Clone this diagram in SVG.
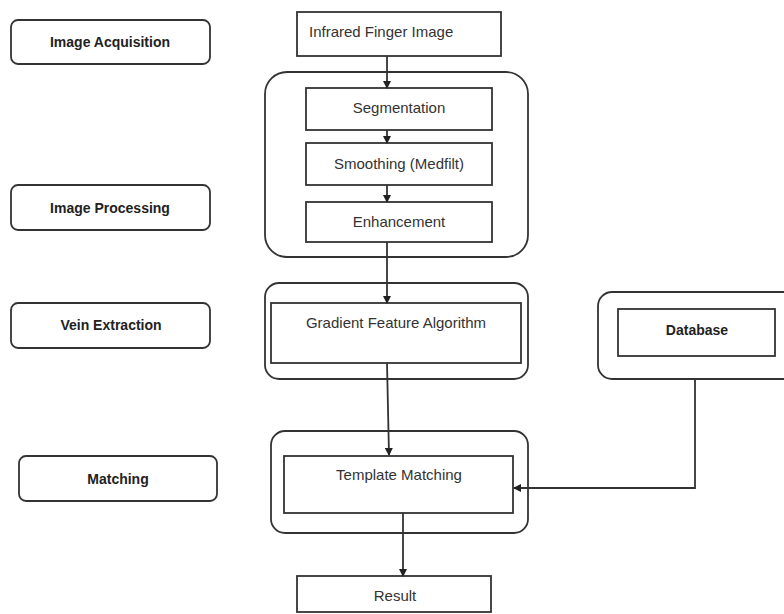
<svg xmlns="http://www.w3.org/2000/svg" width="784" height="614" viewBox="0 0 784 614">
<defs>
<style>
.box{fill:#fff;stroke:#333;stroke-width:1.8}
.cont{fill:none;stroke:#333;stroke-width:1.8}
.t{font-family:"Liberation Sans",Arial,sans-serif;font-size:15px;fill:#333}
.b{font-family:"Liberation Sans",Arial,sans-serif;font-size:14px;font-weight:bold;fill:#222}
.c{fill:none;stroke:#333;stroke-width:1.8}
</style>
<marker id="ah" markerWidth="8" markerHeight="8" refX="7" refY="4" orient="auto" markerUnits="userSpaceOnUse">
<path d="M0,0 L8,4 L0,8 Z" fill="#222"/>
</marker>
</defs>
<rect width="784" height="614" fill="#fff"/>
<g id="label-acquisition"><rect class="box" x="11" y="20" width="199" height="44" rx="7"/><text class="b" x="110" y="47" text-anchor="middle">Image Acquisition</text></g>
<g id="label-processing"><rect class="box" x="11" y="185" width="199" height="45" rx="7"/><text class="b" x="110" y="213" text-anchor="middle">Image Processing</text></g>
<g id="label-vein"><rect class="box" x="11" y="303" width="199" height="45" rx="7"/><text class="b" x="111" y="330" text-anchor="middle">Vein Extraction</text></g>
<g id="label-matching"><rect class="box" x="19" y="456" width="198" height="45" rx="7"/><text class="b" x="118" y="484" text-anchor="middle">Matching</text></g>
<g id="processing-group"><rect class="cont" x="265" y="72" width="263" height="185" rx="22"/></g>
<g id="vein-group"><rect class="cont" x="265" y="283" width="263" height="96" rx="14"/></g>
<g id="database-group"><rect class="cont" x="598" y="292" width="202" height="87" rx="14"/></g>
<g id="matching-group"><rect class="cont" x="271" y="431" width="257" height="102" rx="14"/></g>
<g id="infrared"><rect class="box" x="297" y="12" width="204" height="44"/><text class="t" x="309" y="37">Infrared Finger Image</text></g>
<g id="segmentation"><rect class="box" x="306" y="88" width="186" height="42"/><text class="t" x="399" y="113" text-anchor="middle">Segmentation</text></g>
<g id="smoothing"><rect class="box" x="306" y="143" width="186" height="42"/><text class="t" x="399" y="169" text-anchor="middle">Smoothing (Medfilt)</text></g>
<g id="enhancement"><rect class="box" x="306" y="202" width="186" height="40"/><text class="t" x="399" y="227" text-anchor="middle">Enhancement</text></g>
<g id="gradient"><rect class="box" x="271" y="303" width="250" height="60"/><text class="t" x="396" y="328" text-anchor="middle">Gradient Feature Algorithm</text></g>
<g id="database"><rect class="box" x="618" y="309" width="157" height="47"/><text class="b" x="697" y="335" text-anchor="middle">Database</text></g>
<g id="template"><rect class="box" x="284" y="456" width="229" height="57"/><text class="t" x="399" y="480" text-anchor="middle">Template Matching</text></g>
<g id="result"><rect class="box" x="297" y="576" width="194" height="36"/><text class="t" x="395" y="601" text-anchor="middle">Result</text></g>
<g id="connectors">
<line class="c" x1="387" y1="56" x2="387" y2="88" marker-end="url(#ah)"/>
<line class="c" x1="387" y1="130" x2="387" y2="143" marker-end="url(#ah)"/>
<line class="c" x1="387" y1="185" x2="387" y2="202" marker-end="url(#ah)"/>
<line class="c" x1="387" y1="242" x2="387" y2="303" marker-end="url(#ah)"/>
<line class="c" x1="387" y1="363" x2="389" y2="455" marker-end="url(#ah)"/>
<polyline class="c" points="695,379 695,488 514,488" marker-end="url(#ah)"/>
<line class="c" x1="403" y1="513" x2="403" y2="576" marker-end="url(#ah)"/>
</g>
</svg>
